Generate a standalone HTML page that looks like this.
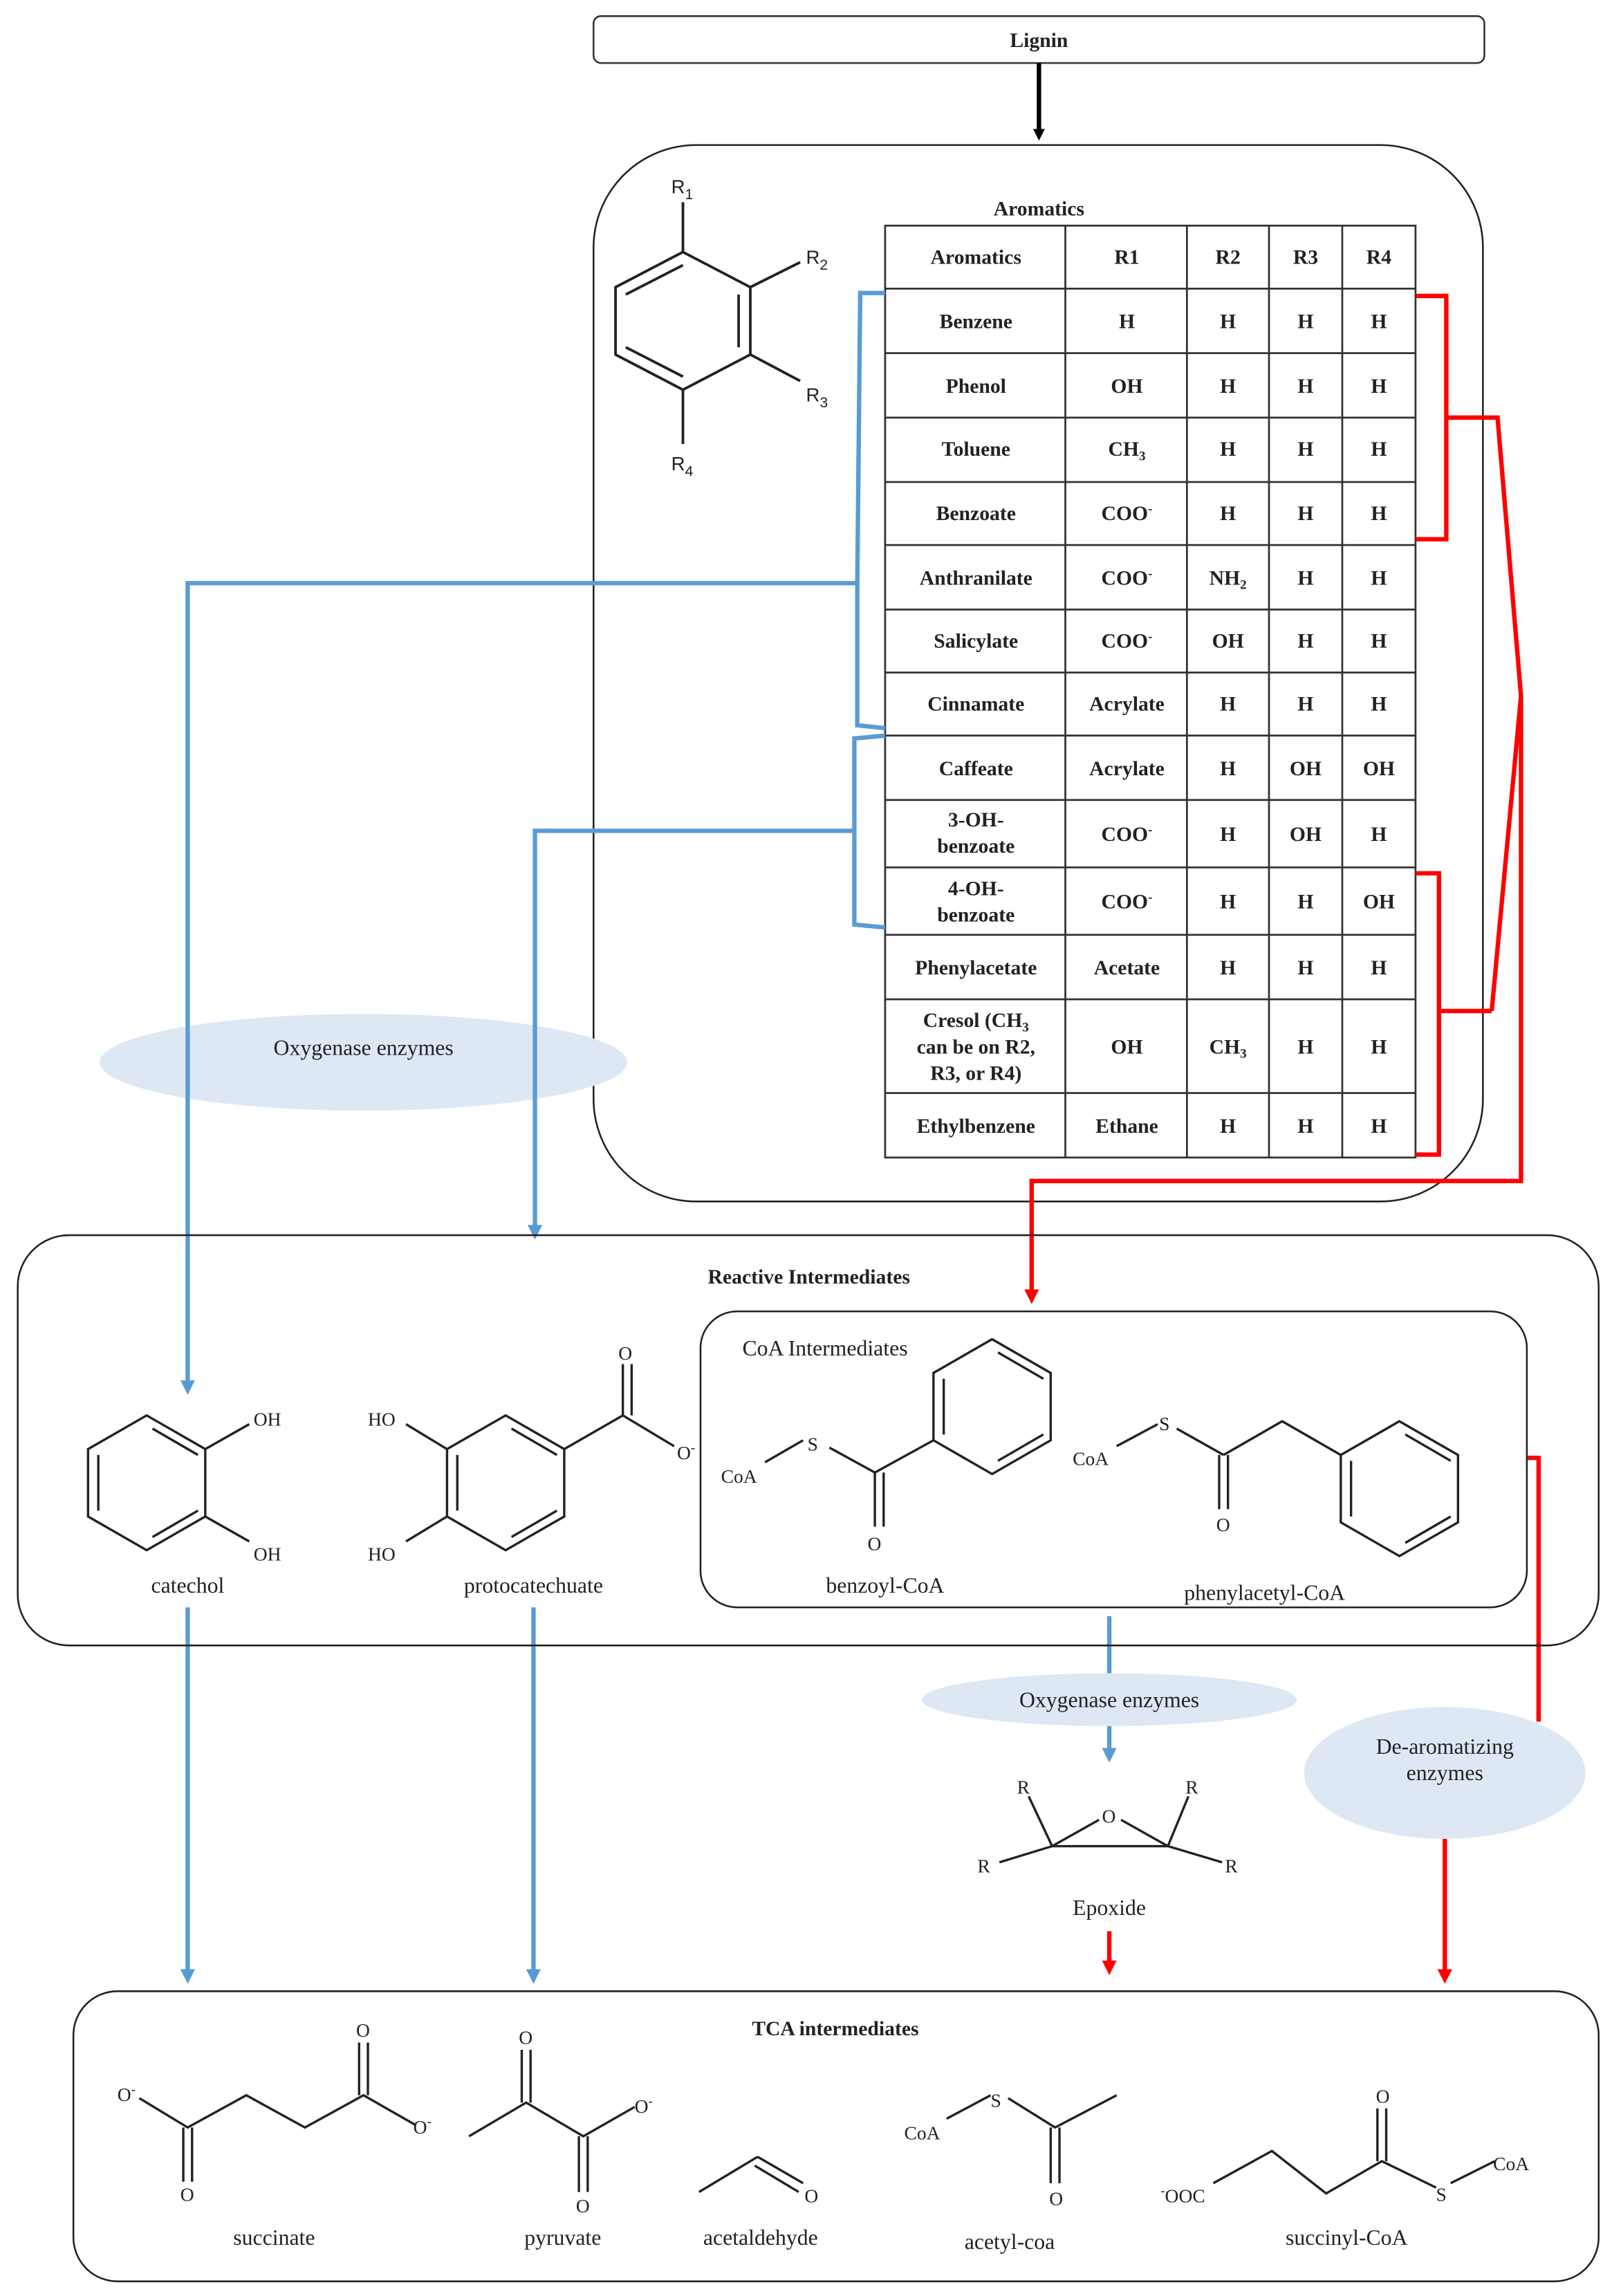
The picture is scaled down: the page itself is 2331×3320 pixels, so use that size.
<!DOCTYPE html>
<html><head><meta charset="utf-8"><style>
html,body{margin:0;padding:0;background:#fff}
svg{display:block}
text{font-family:"Liberation Serif",serif;fill:#222}
.b{font-weight:bold;font-size:14px}
.t{font-size:15px}
.c{font-size:13px;font-family:"Liberation Sans",sans-serif}
</style></head><body>
<svg width="2331" height="3320" viewBox="0 0 1100 1567" xmlns="http://www.w3.org/2000/svg">
<defs>
<marker id="ab" markerWidth="8" markerHeight="8" refX="4" refY="4" orient="auto" markerUnits="userSpaceOnUse"><path d="M0,0 L8,4 L0,8 z" fill="#000"/></marker>
<marker id="abl" markerWidth="10" markerHeight="10" refX="6" refY="5" orient="auto" markerUnits="userSpaceOnUse"><path d="M0,0 L10,5 L0,10 z" fill="#5b9bd5"/></marker>
<marker id="ar" markerWidth="10" markerHeight="10" refX="6" refY="5" orient="auto" markerUnits="userSpaceOnUse"><path d="M0,0 L10,5 L0,10 z" fill="#f00"/></marker>
</defs>
<rect width="1100" height="1567" fill="#fff"/>
<!-- Lignin -->
<rect x="405" y="11" width="608" height="32" rx="5" fill="#fff" stroke="#333" stroke-width="1.2"/>
<text x="709" y="32" text-anchor="middle" class="b">Lignin</text>
<line x1="709" y1="43" x2="709" y2="92" stroke="#000" stroke-width="3" marker-end="url(#ab)"/>
<!-- Aromatics box -->
<rect x="405" y="99" width="607" height="721" rx="70" fill="none" stroke="#222" stroke-width="1.2"/>
<text x="709" y="147" text-anchor="middle" class="b">Aromatics</text>
<!-- generic ring -->
<g stroke="#222" stroke-width="1.8" fill="none">
<polygon points="466,172 512,196 512,242 466,266 420,242 420,196"/>
<line x1="427" y1="201" x2="466" y2="181"/><line x1="504" y1="201" x2="504" y2="237"/><line x1="427" y1="237" x2="466" y2="257"/>
<line x1="466" y1="172" x2="466" y2="138"/><line x1="512" y1="196" x2="546" y2="179"/><line x1="512" y1="242" x2="546" y2="260"/><line x1="466" y1="266" x2="466" y2="303"/>
</g>
<text x="458" y="132" class="c" font-size="15">R<tspan font-size="10" dy="4">1</tspan></text>
<text x="550" y="180" class="c" font-size="15">R<tspan font-size="10" dy="4">2</tspan></text>
<text x="550" y="274" class="c" font-size="15">R<tspan font-size="10" dy="4">3</tspan></text>
<text x="458" y="321" class="c" font-size="15">R<tspan font-size="10" dy="4">4</tspan></text>
<!-- table -->
<g stroke="#333" stroke-width="1.3" fill="none">
<rect x="604" y="154" width="362" height="636" fill="#fff"/>
<line x1="727" y1="154" x2="727" y2="790"/><line x1="810" y1="154" x2="810" y2="790"/><line x1="866" y1="154" x2="866" y2="790"/><line x1="916" y1="154" x2="916" y2="790"/>
<line x1="604" y1="197" x2="966" y2="197"/><line x1="604" y1="241" x2="966" y2="241"/><line x1="604" y1="285" x2="966" y2="285"/><line x1="604" y1="329" x2="966" y2="329"/><line x1="604" y1="372" x2="966" y2="372"/><line x1="604" y1="416" x2="966" y2="416"/><line x1="604" y1="459" x2="966" y2="459"/><line x1="604" y1="502" x2="966" y2="502"/><line x1="604" y1="546" x2="966" y2="546"/><line x1="604" y1="592" x2="966" y2="592"/><line x1="604" y1="638" x2="966" y2="638"/><line x1="604" y1="682" x2="966" y2="682"/><line x1="604" y1="746" x2="966" y2="746"/>
</g>
<g class="b" text-anchor="middle">
<text x="666" y="180">Aromatics</text><text x="769" y="180">R1</text><text x="838" y="180">R2</text><text x="891" y="180">R3</text><text x="941" y="180">R4</text>
<text x="666" y="224">Benzene</text><text x="769" y="224">H</text><text x="838" y="224">H</text><text x="891" y="224">H</text><text x="941" y="224">H</text>
<text x="666" y="268">Phenol</text><text x="769" y="268">OH</text><text x="838" y="268">H</text><text x="891" y="268">H</text><text x="941" y="268">H</text>
<text x="666" y="311">Toluene</text><text x="769" y="311">CH<tspan font-size="9" dy="3">3</tspan></text><text x="838" y="311">H</text><text x="891" y="311">H</text><text x="941" y="311">H</text>
<text x="666" y="355">Benzoate</text><text x="769" y="355">COO<tspan font-size="9" dy="-5">-</tspan></text><text x="838" y="355">H</text><text x="891" y="355">H</text><text x="941" y="355">H</text>
<text x="666" y="399">Anthranilate</text><text x="769" y="399">COO<tspan font-size="9" dy="-5">-</tspan></text><text x="838" y="399">NH<tspan font-size="9" dy="3">2</tspan></text><text x="891" y="399">H</text><text x="941" y="399">H</text>
<text x="666" y="442">Salicylate</text><text x="769" y="442">COO<tspan font-size="9" dy="-5">-</tspan></text><text x="838" y="442">OH</text><text x="891" y="442">H</text><text x="941" y="442">H</text>
<text x="666" y="485">Cinnamate</text><text x="769" y="485">Acrylate</text><text x="838" y="485">H</text><text x="891" y="485">H</text><text x="941" y="485">H</text>
<text x="666" y="529">Caffeate</text><text x="769" y="529">Acrylate</text><text x="838" y="529">H</text><text x="891" y="529">OH</text><text x="941" y="529">OH</text>
<text x="666" y="564">3-OH-</text><text x="666" y="582">benzoate</text><text x="769" y="574">COO<tspan font-size="9" dy="-5">-</tspan></text><text x="838" y="574">H</text><text x="891" y="574">OH</text><text x="941" y="574">H</text>
<text x="666" y="611">4-OH-</text><text x="666" y="629">benzoate</text><text x="769" y="620">COO<tspan font-size="9" dy="-5">-</tspan></text><text x="838" y="620">H</text><text x="891" y="620">H</text><text x="941" y="620">OH</text>
<text x="666" y="665">Phenylacetate</text><text x="769" y="665">Acetate</text><text x="838" y="665">H</text><text x="891" y="665">H</text><text x="941" y="665">H</text>
<text x="666" y="701">Cresol (CH<tspan font-size="9" dy="3">3</tspan></text><text x="666" y="719">can be on R2,</text><text x="666" y="737">R3, or R4)</text>
<text x="769" y="719">OH</text><text x="838" y="719">CH<tspan font-size="9" dy="3">3</tspan></text><text x="891" y="719">H</text><text x="941" y="719">H</text>
<text x="666" y="773">Ethylbenzene</text><text x="769" y="773">Ethane</text><text x="838" y="773">H</text><text x="891" y="773">H</text><text x="941" y="773">H</text>
</g>
<!-- oxygenase ellipse 1 -->
<ellipse cx="248" cy="725" rx="180" ry="33" fill="#dde8f4"/>
<text x="248" y="720" text-anchor="middle" class="t">Oxygenase enzymes</text>
<!-- blue brackets -->
<g stroke="#5b9bd5" stroke-width="3" fill="none">
<polyline points="604,200 587,200 585,398 585,495 604,497"/>
<polyline points="585,398 128,398 128,948" marker-end="url(#abl)"/>
<polyline points="604,502 583,504 583,631 604,633"/>
<polyline points="583,567 365,567 365,842" marker-end="url(#abl)"/>
<line x1="128" y1="1097" x2="128" y2="1350" marker-end="url(#abl)"/>
<line x1="364" y1="1097" x2="364" y2="1350" marker-end="url(#abl)"/>
<line x1="757" y1="1103" x2="757" y2="1142"/>
<line x1="757" y1="1178" x2="757" y2="1199" marker-end="url(#abl)"/>
</g>
<!-- red brackets -->
<g stroke="#f00" stroke-width="3" fill="none">
<polyline points="966,202 987,202 987,368 966,368"/>
<polyline points="987,285 1022,285 1038,475 1018,690"/>
<polyline points="966,596 982,596 982,788 966,788"/>
<line x1="982" y1="690" x2="1018" y2="690"/>
<polyline points="1038,475 1038,806 704,806 704,886" marker-end="url(#ar)"/>
<polyline points="1042,995 1050,995 1050,1175"/>
<line x1="986" y1="1255" x2="986" y2="1350" marker-end="url(#ar)"/>
<line x1="757" y1="1318" x2="757" y2="1344" marker-end="url(#ar)"/>
</g>
<!-- Reactive intermediates -->
<rect x="12" y="843" width="1079" height="280" rx="35" fill="none" stroke="#222" stroke-width="1.2"/>
<text x="552" y="876" text-anchor="middle" class="b">Reactive Intermediates</text>
<rect x="478" y="895" width="564" height="202" rx="25" fill="#fff" stroke="#222" stroke-width="1.2"/>
<text x="563" y="925" text-anchor="middle" class="t">CoA Intermediates</text>
<g stroke="#222" stroke-width="1.6" fill="none">
<!-- catechol -->
<polygon points="60,989 100,966 140,989 140,1035 100,1058 60,1035"/>
<line x1="67" y1="993" x2="67" y2="1031"/><line x1="104" y1="975" x2="135" y2="993"/><line x1="104" y1="1049" x2="135" y2="1031"/>
<line x1="140" y1="989" x2="170" y2="972"/><line x1="140" y1="1035" x2="170" y2="1052"/>
<!-- protocatechuate -->
<polygon points="305,989 345,966 385,989 385,1035 345,1058 305,1035"/>
<line x1="312" y1="993" x2="312" y2="1031"/><line x1="349" y1="975" x2="380" y2="993"/><line x1="349" y1="1049" x2="380" y2="1031"/>
<line x1="305" y1="989" x2="277" y2="972"/><line x1="305" y1="1035" x2="277" y2="1052"/>
<line x1="385" y1="989" x2="425" y2="966"/><line x1="425" y1="966" x2="425" y2="931"/><line x1="431" y1="966" x2="431" y2="931"/><line x1="425" y1="966" x2="460" y2="987"/>
<!-- benzoyl-CoA -->
<line x1="522" y1="998" x2="548" y2="983"/><line x1="566" y1="988" x2="597" y2="1005"/>
<line x1="597" y1="1005" x2="597" y2="1042"/><line x1="603" y1="1005" x2="603" y2="1042"/>
<line x1="597" y1="1005" x2="637" y2="983"/>
<polygon points="637,937 677,914 717,937 717,983 677,1006 637,983"/>
<line x1="644" y1="941" x2="644" y2="979"/><line x1="681" y1="923" x2="712" y2="941"/><line x1="681" y1="997" x2="712" y2="979"/>
<!-- phenylacetyl-CoA -->
<line x1="762" y1="987" x2="790" y2="972"/><line x1="803" y1="975" x2="835" y2="993"/>
<line x1="832" y1="993" x2="832" y2="1030"/><line x1="838" y1="993" x2="838" y2="1030"/>
<polyline points="835,993 875,970 915,993"/>
<polygon points="915,993 955,970 995,993 995,1039 955,1062 915,1039"/>
<line x1="922" y1="997" x2="922" y2="1035"/><line x1="959" y1="979" x2="990" y2="997"/><line x1="959" y1="1053" x2="990" y2="1035"/>
<!-- epoxide -->
<line x1="718" y1="1260" x2="750" y2="1242"/><line x1="765" y1="1242" x2="797" y2="1260"/><line x1="718" y1="1260" x2="797" y2="1260"/>
<line x1="718" y1="1260" x2="702" y2="1226"/><line x1="797" y1="1260" x2="811" y2="1226"/><line x1="718" y1="1260" x2="682" y2="1271"/><line x1="797" y1="1260" x2="834" y2="1271"/>
</g>
<g class="c">
<text x="173" y="973">OH</text><text x="173" y="1065">OH</text>
<text x="251" y="973">HO</text><text x="251" y="1065">HO</text>
<text x="422" y="928">O</text><text x="462" y="996">O<tspan font-size="9" dy="-5">-</tspan></text>
<text x="492" y="1012">CoA</text><text x="551" y="990">S</text><text x="592" y="1058">O</text>
<text x="732" y="1000">CoA</text><text x="791" y="976">S</text><text x="830" y="1045">O</text>
<text x="752" y="1244">O</text><text x="694" y="1224">R</text><text x="809" y="1224">R</text><text x="667" y="1278">R</text><text x="836" y="1278">R</text>
</g>
<text x="128" y="1087" text-anchor="middle" class="t">catechol</text>
<text x="364" y="1087" text-anchor="middle" class="t">protocatechuate</text>
<text x="604" y="1087" text-anchor="middle" class="t">benzoyl-CoA</text>
<text x="863" y="1092" text-anchor="middle" class="t">phenylacetyl-CoA</text>
<!-- ellipses -->
<ellipse cx="757" cy="1160" rx="128" ry="18" fill="#dde8f4"/>
<text x="757" y="1165" text-anchor="middle" class="t">Oxygenase enzymes</text>
<ellipse cx="986" cy="1210" rx="96" ry="45" fill="#dde8f4"/>
<text x="986" y="1197" text-anchor="middle" class="t">De-aromatizing</text>
<text x="986" y="1215" text-anchor="middle" class="t">enzymes</text>
<text x="757" y="1307" text-anchor="middle" class="t">Epoxide</text>
<!-- TCA -->
<rect x="50" y="1359" width="1041" height="198" rx="30" fill="none" stroke="#222" stroke-width="1.2"/>
<text x="570" y="1389" text-anchor="middle" class="b">TCA intermediates</text>
<g stroke="#222" stroke-width="1.6" fill="none">
<polyline points="95,1432 128,1452 168,1430 208,1452 248,1430 283,1450"/>
<line x1="125" y1="1452" x2="125" y2="1489"/><line x1="131" y1="1452" x2="131" y2="1489"/>
<line x1="245" y1="1430" x2="245" y2="1394"/><line x1="251" y1="1430" x2="251" y2="1394"/>
<polyline points="320,1458 359,1435 398,1458 433,1438"/>
<line x1="356" y1="1435" x2="356" y2="1399"/><line x1="362" y1="1435" x2="362" y2="1399"/>
<line x1="395" y1="1458" x2="395" y2="1496"/><line x1="401" y1="1458" x2="401" y2="1496"/>
<line x1="477" y1="1496" x2="517" y2="1472"/><line x1="517" y1="1472" x2="548" y2="1490"/><line x1="515" y1="1478" x2="545" y2="1496"/>
<line x1="646" y1="1446" x2="676" y2="1430"/><polyline points="688,1432 720,1452 762,1430"/>
<line x1="717" y1="1452" x2="717" y2="1490"/><line x1="723" y1="1452" x2="723" y2="1490"/>
<polyline points="828,1490 868,1468 905,1497 943,1475 980,1493"/>
<line x1="940" y1="1475" x2="940" y2="1439"/><line x1="946" y1="1475" x2="946" y2="1439"/>
<line x1="990" y1="1490" x2="1020" y2="1475"/>
</g>
<g class="c">
<text x="80" y="1434">O<tspan font-size="9" dy="-5">-</tspan></text><text x="123" y="1502">O</text><text x="243" y="1390">O</text><text x="282" y="1456">O<tspan font-size="9" dy="-5">-</tspan></text>
<text x="354" y="1395">O</text><text x="393" y="1510">O</text><text x="433" y="1442">O<tspan font-size="9" dy="-5">-</tspan></text>
<text x="549" y="1503">O</text>
<text x="617" y="1460">CoA</text><text x="676" y="1438">S</text><text x="716" y="1505">O</text>
<text x="792" y="1503"><tspan font-size="9" dy="-5">-</tspan><tspan dy="5">OOC</tspan></text><text x="980" y="1502">S</text><text x="1019" y="1481">CoA</text><text x="939" y="1435">O</text>
</g>
<g class="t" text-anchor="middle">
<text x="187" y="1532">succinate</text><text x="384" y="1532">pyruvate</text><text x="519" y="1532">acetaldehyde</text><text x="689" y="1535">acetyl-coa</text><text x="919" y="1532">succinyl-CoA</text>
</g>
</svg>
</body></html>
